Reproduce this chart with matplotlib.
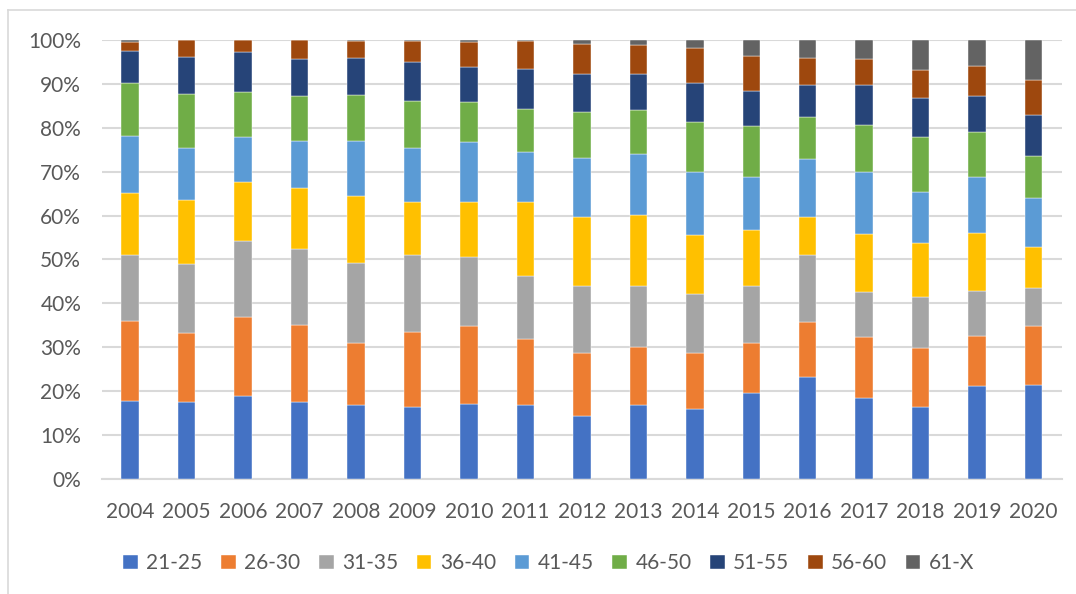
import numpy as np
import matplotlib
matplotlib.use("Agg")
import matplotlib.pyplot as plt
from matplotlib.lines import Line2D
from matplotlib.ticker import FuncFormatter

years = ["2004", "2005", "2006", "2007", "2008", "2009", "2010", "2011", "2012",
         "2013", "2014", "2015", "2016", "2017", "2018", "2019", "2020"]
groups = ["21-25", "26-30", "31-35", "36-40", "41-45", "46-50", "51-55", "56-60", "61-X"]
colors = ["#4472C4", "#ED7D31", "#A5A5A5", "#FFC000", "#5B9BD5",
          "#70AD47", "#264478", "#9E480E", "#636363"]

# share (%) per age group, one value per year
g21_25 = [17.7, 17.5, 18.9, 17.5, 16.8, 16.4, 17.0, 16.8, 14.2, 16.8, 15.9, 19.5, 23.2, 18.4, 16.4, 21.0, 21.4]
g26_30 = [18.3, 15.8, 18.0, 17.6, 14.2, 17.1, 17.9, 15.0, 14.4, 13.3, 12.7, 11.5, 12.5, 13.8, 13.4, 11.6, 13.4]
g31_35 = [14.9, 15.7, 17.2, 17.2, 18.2, 17.4, 15.7, 14.3, 15.4, 13.9, 13.5, 13.0, 15.2, 10.4, 11.6, 10.1, 8.7]
g36_40 = [14.3, 14.5, 13.6, 13.9, 15.2, 12.2, 12.4, 16.9, 15.6, 16.2, 13.4, 12.7, 8.8, 13.1, 12.4, 13.3, 9.4]
g41_45 = [12.9, 12.0, 10.1, 10.9, 12.5, 12.4, 13.8, 11.5, 13.6, 13.9, 14.5, 12.0, 13.1, 14.3, 11.5, 12.7, 11.1]
g46_50 = [12.2, 12.3, 10.4, 10.1, 10.6, 10.7, 9.1, 9.7, 10.4, 9.9, 11.4, 11.8, 9.7, 10.7, 12.6, 10.3, 9.6]
g51_55 = [7.3, 8.4, 9.0, 8.4, 8.5, 8.9, 7.9, 9.3, 8.7, 8.2, 8.9, 7.8, 7.2, 9.0, 9.0, 8.3, 9.4]
g56_60 = [2.0, 3.8, 2.8, 4.4, 3.7, 4.6, 5.8, 6.2, 6.9, 6.6, 8.0, 8.0, 6.3, 5.9, 6.3, 6.7, 8.0]
g61_x = [0.4, 0.0, 0.0, 0.0, 0.3, 0.3, 0.4, 0.3, 0.8, 1.2, 1.7, 3.7, 4.0, 4.4, 6.8, 6.0, 9.0]

series = [g21_25, g26_30, g31_35, g36_40, g41_45, g46_50, g51_55, g56_60, g61_x]

data = np.array(series, dtype=float)
data = data / data.sum(axis=0)  # 100% stacked

fig = plt.figure(figsize=(10.76, 5.94), dpi=100)
ax = fig.add_axes([0.0948, 0.1944, 0.892, 0.738])

x = np.arange(len(years))
bottom = np.zeros(len(years))
for vals, col, name in zip(data, colors, groups):
    ax.bar(x, vals, 0.31, bottom=bottom, color=col, label=name, zorder=3,
           edgecolor="white", linewidth=0.3)
    bottom += vals

ax.set_ylim(0, 1)
ax.set_xlim(-0.5, len(years) - 0.5)
ax.set_yticks(np.arange(0, 1.01, 0.1))
ax.yaxis.set_major_formatter(FuncFormatter(lambda v, p: "%d%%" % round(v * 100)))
ax.set_xticks(x)
ax.set_xticklabels(years)
ax.grid(axis="y", color="#D9D9D9", linewidth=1.5, zorder=0)
for s in ["top", "right", "left"]:
    ax.spines[s].set_visible(False)
ax.spines["bottom"].set_color("#D9D9D9")
ax.spines["bottom"].set_linewidth(1.5)
ax.tick_params(length=0, labelsize=15, colors="#595959")
ax.tick_params(axis="y", pad=15)
ax.tick_params(axis="x", pad=17)
for lab in ax.get_xticklabels() + ax.get_yticklabels():
    lab.set_family("Lato")

handles, labels = ax.get_legend_handles_labels()
fig.legend(handles, labels, loc="center", bbox_to_anchor=(0.51, 0.052), ncol=9,
           frameon=False, handlelength=0.7, handleheight=0.7, handletextpad=0.4,
           columnspacing=0.9, prop={"family": "Lato", "size": 15},
           labelcolor="#595959")

# chart area border (left and top visible in the reference)
fig.add_artist(Line2D([8 / 1076, 8 / 1076], [0, 1 - 10 / 594], color="#D9D9D9",
                      linewidth=1.2, transform=fig.transFigure))
fig.add_artist(Line2D([8 / 1076, 1], [1 - 10 / 594, 1 - 10 / 594], color="#D9D9D9",
                      linewidth=1.2, transform=fig.transFigure))

fig.savefig("out.png", dpi=100, facecolor="white")
